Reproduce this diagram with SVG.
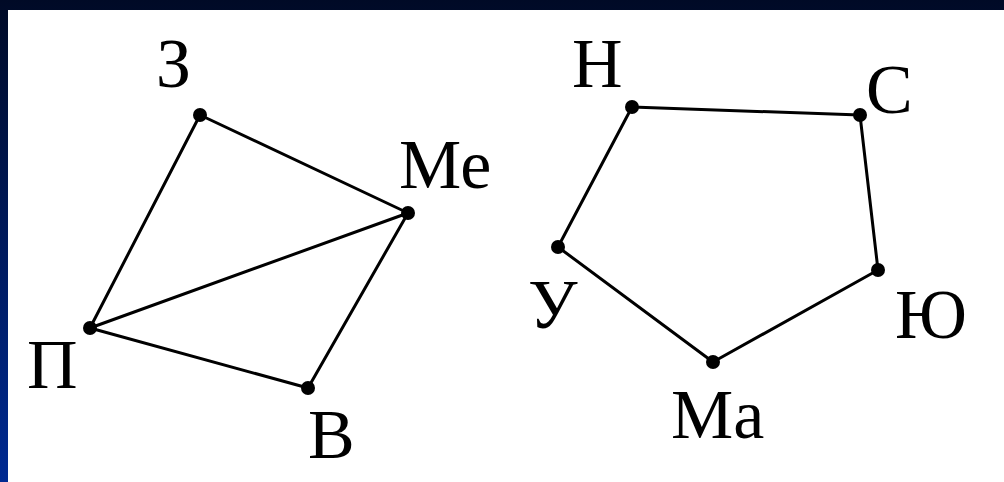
<svg xmlns="http://www.w3.org/2000/svg" width="1004" height="482" viewBox="0 0 1004 482">
<defs>
<linearGradient id="bg" x1="0" y1="0" x2="0" y2="1">
<stop offset="0" stop-color="#000a26"/>
<stop offset="1" stop-color="#002a92"/>
</linearGradient>
<style>
.e{stroke:#000;stroke-width:3;fill:none;stroke-linecap:round}
.d{fill:#000}
.l{font-family:"Liberation Serif","Times New Roman",serif;font-size:70px;fill:#000}
</style>
</defs>
<rect x="0" y="0" width="1004" height="482" fill="url(#bg)"/>
<rect x="8" y="10" width="996" height="472" fill="#fff"/>
<g id="connectors">
<line class="e" x1="200" y1="115" x2="408" y2="213"/>
<line class="e" x1="200" y1="115" x2="90" y2="328"/>
<line class="e" x1="90" y1="328" x2="408" y2="213"/>
<line class="e" x1="90" y1="328" x2="308" y2="388"/>
<line class="e" x1="308" y1="388" x2="408" y2="213"/>
<line class="e" x1="632" y1="107" x2="860" y2="115"/>
<line class="e" x1="860" y1="115" x2="878" y2="270"/>
<line class="e" x1="878" y1="270" x2="713" y2="362"/>
<line class="e" x1="713" y1="362" x2="558" y2="247"/>
<line class="e" x1="558" y1="247" x2="632" y2="107"/>
</g>
<g id="n-z"><circle class="d" cx="200" cy="115" r="7"/><text class="l" x="156" y="87">З</text></g>
<g id="n-me"><circle class="d" cx="408" cy="213" r="7"/><text class="l" x="399" y="188">Ме</text></g>
<g id="n-p"><circle class="d" cx="90" cy="328" r="7"/><text class="l" x="27" y="388">П</text></g>
<g id="n-v"><circle class="d" cx="308" cy="388" r="7"/><text class="l" x="308" y="458">В</text></g>
<g id="n-n"><circle class="d" cx="632" cy="107" r="7"/><text class="l" x="572" y="87">Н</text></g>
<g id="n-s"><circle class="d" cx="860" cy="115" r="7"/><text class="l" x="866" y="113">С</text></g>
<g id="n-yu"><circle class="d" cx="878" cy="270" r="7"/><text class="l" x="895" y="338">Ю</text></g>
<g id="n-ma"><circle class="d" cx="713" cy="362" r="7"/><text class="l" x="671" y="438">Ма</text></g>
<g id="n-u"><circle class="d" cx="558" cy="247" r="7"/><text class="l" x="528" y="328">У</text></g>
</svg>
